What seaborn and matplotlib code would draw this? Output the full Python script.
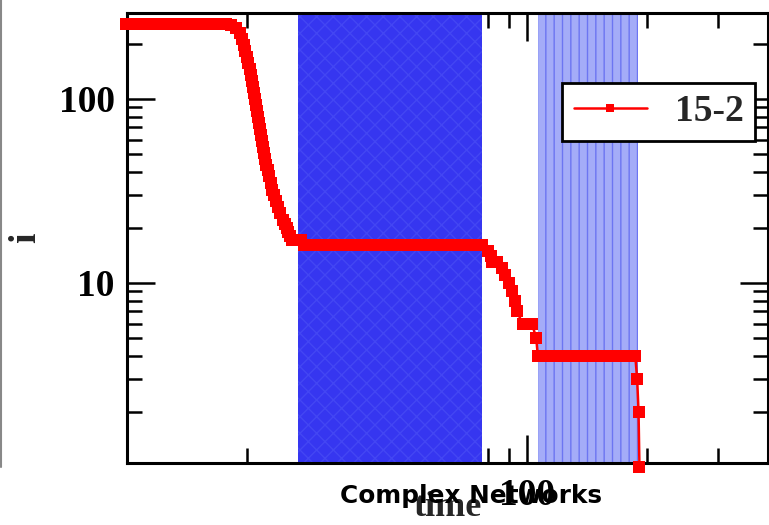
import matplotlib
matplotlib.use("Agg")
import matplotlib.pyplot as plt
from matplotlib.ticker import LogLocator, FuncFormatter, NullFormatter
from matplotlib.lines import Line2D
import seaborn as sns
import pandas as pd

# ---- data -------------------------------------------------------------
series_name = "15-2"

time = [
    # first plateau
    10, 10.3, 10.6, 10.9, 11.2, 11.5, 11.8, 12.1, 12.5, 12.9, 13.3, 13.7,
    14.1, 14.5, 14.9, 15.3, 15.7, 16.1, 16.5, 16.9, 17.3, 17.7,
    # fast decay
    18.2, 18.72, 19.17, 19.45, 19.61, 19.78, 19.95, 20.12, 20.30, 20.42,
    20.54, 20.66, 20.78, 20.89, 21.01, 21.13, 21.25, 21.38, 21.50, 21.62,
    21.75, 21.87, 22.0, 22.13, 22.33, 22.52, 22.72, 22.91, 23.11, 23.31,
    23.58, 23.85, 24.13, 24.55, 24.83, 25.12, 25.33, 25.56,
    25.85, 26.30, 26.76, 27.23,
    # second plateau
    27.7, 28.4, 29.1, 29.9, 30.7, 31.5, 32.3, 33.1, 34.0, 34.9, 35.8, 36.7,
    37.7, 38.7, 39.7, 40.7, 41.8, 42.9, 44.0, 45.1, 46.3, 47.5, 48.7, 50.0,
    51.3, 52.6, 54.0, 55.4, 56.8, 58.3, 59.8, 61.4, 63.0, 64.6, 66.3, 68.0,
    69.8, 71.6, 73.5, 75.4, 77.4,
    # stepwise decay
    80, 81.5, 82, 84, 86.5, 88, 90, 92, 93.5, 94.5, 97.5, 100, 103, 105.5,
    # third plateau
    106.5, 109.3, 112.1, 115.0, 118.0, 121.1, 124.2, 127.5, 130.8, 134.2,
    137.7, 141.3, 145.0, 148.7, 152.6, 156.6, 160.6, 164.8, 169.1, 173.5,
    178.0, 182.6, 186.5,
    # final drop
    188.5, 190, 191,
]

count = [
    256, 256, 256, 256, 256, 256, 256, 256, 256, 256, 256, 256,
    256, 256, 256, 256, 256, 256, 256, 256, 256, 256,
    252, 243, 228, 212, 197, 182, 169, 157, 146, 135,
    125, 116, 108, 100, 93, 86, 80, 74, 69, 64,
    59, 55, 51, 47, 44, 41, 38, 35, 32, 30,
    28, 26, 24, 22, 21, 20, 19, 18,
    17, 17, 17, 17,
    16, 16, 16, 16, 16, 16, 16, 16, 16, 16, 16, 16,
    16, 16, 16, 16, 16, 16, 16, 16, 16, 16, 16, 16,
    16, 16, 16, 16, 16, 16, 16, 16, 16, 16, 16, 16,
    16, 16, 16, 16, 16,
    15, 14, 13, 13, 12, 11, 10, 9, 8, 7, 6, 6, 6, 5,
    4, 4, 4, 4, 4, 4, 4, 4, 4, 4,
    4, 4, 4, 4, 4, 4, 4, 4, 4, 4,
    4, 4, 4,
    3, 2, 1,
]

# shaded time windows (start, end)
window_dark = (26.8, 77.2)
window_light = (106.5, 189.5)

df = pd.DataFrame({"time": time, "i": count})

# ---- figure -------------------------------------------------------------
sns.set_style("ticks")
plt.rcParams["font.family"] = ["Liberation Serif", "DejaVu Serif"]
plt.rcParams["font.weight"] = "bold"

fig = plt.figure(figsize=(7.69, 5.25), dpi=100)
W, H = 769, 525
ax = fig.add_axes([127 / W, 1 - 463 / H, (768 - 127) / W, 450 / H])

ax.axvspan(*window_dark, facecolor="#3636f0", edgecolor="#4346f3",
           hatch="xx", linewidth=0, zorder=1)
ax.axvspan(*window_light, facecolor="#a4acf8", edgecolor="#6c75f2",
           hatch="||", linewidth=0, zorder=1)

sns.lineplot(data=df, x="time", y="i", ax=ax, color="red", marker="s",
             markersize=8.5, markeredgewidth=0, linewidth=1.8,
             estimator=None, sort=False, label=series_name, zorder=3,
             clip_on=False)

ax.set_xscale("log")
ax.set_yscale("log")
ax.set_xlim(10.03, 400)
ax.set_ylim(1.05, 293)

fmt = FuncFormatter(lambda v, _: f"{v:g}")
for axis in (ax.xaxis, ax.yaxis):
    axis.set_major_locator(LogLocator(base=10))
    axis.set_minor_locator(LogLocator(base=10, subs=range(2, 10)))
    axis.set_major_formatter(fmt)
    axis.set_minor_formatter(NullFormatter())

ax.tick_params(which="both", direction="in", top=True, right=True,
               width=1.8, colors="black", labelsize=27)
ax.tick_params(which="major", length=20)
ax.tick_params(which="minor", length=11)
ax.tick_params(axis="y", pad=9)
ax.tick_params(axis="x", pad=11)
for lbl in ax.get_xticklabels() + ax.get_yticklabels():
    lbl.set_fontweight("bold")
for sp in ax.spines.values():
    sp.set_linewidth(2.2)
    sp.set_color("black")

ax.set_xlabel("time", fontsize=26, fontweight="bold")
ax.xaxis.label.set_va("baseline")
ax.xaxis.set_label_coords(0.5, (463 - 516) / 450)
ax.set_ylabel("i", fontsize=27, fontweight="bold")
ax.yaxis.set_label_coords((43 - 127) / 641, 0.5)

leg = ax.legend(loc="upper right", bbox_to_anchor=((755 - 127) / 641, 1 - 70 / 450),
                borderaxespad=0, frameon=True, fancybox=False, framealpha=1,
                edgecolor="black", handlelength=1.95,
                handletextpad=0.75, borderpad=0.3, markerscale=0.6,
                prop={"family": "Liberation Serif", "weight": "bold", "size": 27})
leg.get_frame().set_linewidth(2)

fig.text(471.5 / W, 1 - 503 / H, "Complex Networks", ha="center",
         va="baseline", fontsize=17.8, fontweight="bold",
         family="DejaVu Sans", color="black", zorder=10)

fig.add_artist(Line2D([1 / W, 1 / W], [1, 1 - 467 / H], color="#888888",
                      linewidth=1.5, transform=fig.transFigure))

fig.savefig("out.png", dpi=100)
